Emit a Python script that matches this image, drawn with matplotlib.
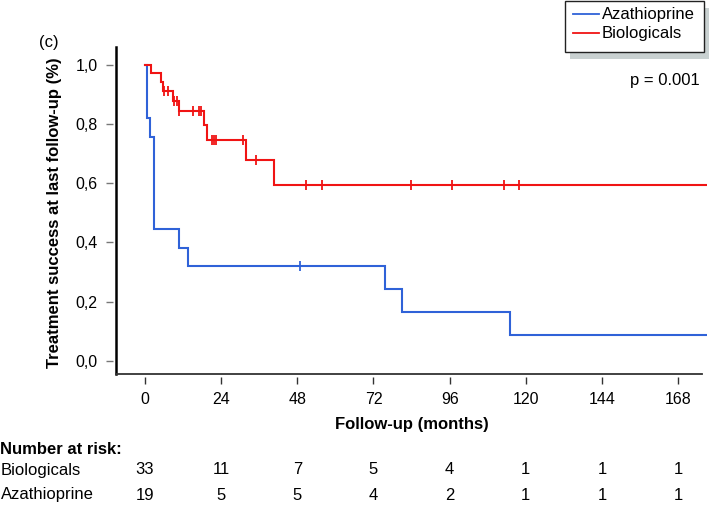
import numpy as np
import matplotlib
matplotlib.use("Agg")
import matplotlib.pyplot as plt
from matplotlib.patches import Rectangle
from matplotlib.lines import Line2D
import matplotlib.transforms as mtransforms

plt.rcParams['font.family'] = ['Liberation Sans', 'DejaVu Sans']

# ---- data ----
bio_event_times = [1.8, 4.9, 5.8, 8.7, 10.7, 18.6, 19.7, 31.8, 40.6]
bio_surv = [0.974, 0.941, 0.912, 0.879, 0.843, 0.797, 0.747, 0.678, 0.594]
bio_censor_times = [6.1, 7.2, 9.1, 10.0, 10.7, 15.0, 17.1, 17.8, 21.1, 21.7, 22.4,
                    31.0, 35.0, 50.7, 55.7, 83.8, 96.9, 113.0, 117.8]

aza_event_times = [0.5, 1.6, 2.9, 10.7, 13.6, 75.6, 80.9, 114.9]
aza_surv = [0.822, 0.755, 0.445, 0.381, 0.321, 0.244, 0.164, 0.087]
aza_censor_times = [48.7]

end_time = 177
x_ticks = [0, 24, 48, 72, 96, 120, 144, 168]
y_ticks = [0.0, 0.2, 0.4, 0.6, 0.8, 1.0]
y_tick_labels = ['0,0', '0,2', '0,4', '0,6', '0,8', '1,0']
risk_bio = [33, 11, 7, 5, 4, 1, 1, 1]
risk_aza = [19, 5, 5, 4, 2, 1, 1, 1]

BLUE = '#2f62d8'
RED = '#f01414'

W, H = 711, 524
fig = plt.figure(figsize=(W / 100, H / 100), dpi=100)

def fx(px):
    return px / W

def fy(py):
    return 1 - py / H

ax_left, ax_right, ax_top, ax_bot = 116, 706.7, 46.7, 374.3
ax = fig.add_axes([fx(ax_left), fy(ax_bot), (ax_right - ax_left) / W, (ax_bot - ax_top) / H])
ax.set_xlim(-9.13, end_time)
ax.set_ylim(-0.046, 1.062)


def km_steps(times, surv):
    t = [0.0] + list(times) + [end_time]
    s = [1.0] + list(surv) + [surv[-1]]
    return np.array(t), np.array(s)


def surv_at(times, surv, tq):
    s = 1.0
    for ti, si in zip(times, surv):
        if ti <= tq:
            s = si
    return s


for times, surv, cens, col, zo in [(aza_event_times, aza_surv, aza_censor_times, BLUE, 3),
                                   (bio_event_times, bio_surv, bio_censor_times, RED, 4)]:
    t, s = km_steps(times, surv)
    ax.step(t, s, where='post', color=col, lw=1.5, zorder=zo, solid_joinstyle='miter')
    cy = [surv_at(times, surv, c) for c in cens]
    ax.plot(cens, cy, linestyle='none', marker='|', markersize=7, mew=1.3, color=col, zorder=zo)

# spines / ticks
for sp in ax.spines.values():
    sp.set_visible(False)
ax.spines['left'].set_position(('outward', 2.0))
ax.spines['bottom'].set_position(('outward', 1.8))
ax.set_xticks(x_ticks)
ax.set_xticklabels([str(v) for v in x_ticks])
ax.set_yticks(y_ticks)
ax.set_yticklabels(y_tick_labels)
ax.tick_params(axis='y', length=5.3, width=1.0, color='#777777', pad=6, labelsize=11.5)
ax.tick_params(axis='x', length=5.3, width=1.0, color='#333333', pad=6, labelsize=11.5)

# axis lines drawn by hand
fig.add_artist(Line2D([fx(ax_left), fx(ax_left)], [fy(ax_bot), fy(ax_top)],
                      color='black', lw=1.8, transform=fig.transFigure))
fig.add_artist(Line2D([fx(ax_left), fx(701.7)], [fy(ax_bot), fy(ax_bot)],
                      color='#333333', lw=1.3, transform=fig.transFigure))

# labels
fig.text(fx(55), fy(213), 'Treatment success at last follow-up (%)', rotation=90,
         ha='center', va='center', fontsize=12, fontweight='bold')
fig.text(fx(412), fy(425), 'Follow-up (months)', ha='center', va='center',
         fontsize=12, fontweight='bold')
fig.text(fx(39), fy(42), '(c)', ha='left', va='center', fontsize=12)
fig.text(fx(700), fy(81), 'p = 0.001', ha='right', va='center', fontsize=12)

# number at risk table
fig.text(fx(0), fy(449), 'Number at risk:', ha='left', va='center', fontsize=12, fontweight='bold')
fig.text(fx(1), fy(470), 'Biologicals', ha='left', va='center', fontsize=12)
fig.text(fx(1), fy(495), 'Azathioprine', ha='left', va='center', fontsize=12)
trans = mtransforms.blended_transform_factory(ax.transData, fig.transFigure)
for xv, nb, na in zip(x_ticks, risk_bio, risk_aza):
    fig.text(xv, fy(470), str(nb), ha='center', va='center', fontsize=12, transform=trans)
    fig.text(xv, fy(495), str(na), ha='center', va='center', fontsize=12, transform=trans)

# legend with shadow
lx0, lx1, ly0, ly1 = 565, 704, 1, 52
fig.add_artist(Rectangle((fx(lx0 + 5), fy(ly1 + 7)), (lx1 - lx0) / W, (ly1 - ly0) / H,
                         transform=fig.transFigure, facecolor='#c9d1d1', edgecolor='none'))
fig.add_artist(Rectangle((fx(lx0), fy(ly1)), (lx1 - lx0) / W, (ly1 - ly0) / H,
                         transform=fig.transFigure, facecolor='white', edgecolor='#222222', lw=1.0))
for name, col, yy in [('Azathioprine', BLUE, 14.3), ('Biologicals', RED, 33.3)]:
    fig.add_artist(Line2D([fx(573), fx(599)], [fy(yy), fy(yy)], color=col, lw=1.3,
                          transform=fig.transFigure))
    fig.text(fx(601.5), fy(yy), name, ha='left', va='center', fontsize=12)

fig.savefig('out.png', dpi=100)
